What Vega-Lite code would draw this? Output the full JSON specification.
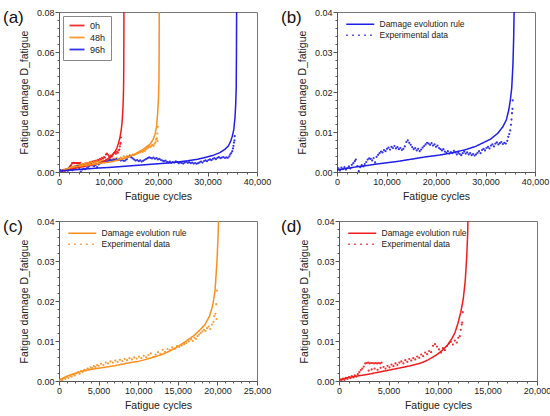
{
  "$schema": "https://vega.github.io/schema/vega-lite/v6.json",
  "padding": {"left": 2, "top": 7, "right": 2, "bottom": 2},
  "datasets": {
    "rule": [
      {"s": "0h", "N": 0, "D": 0.0002}, {"s": "0h", "N": 500, "D": 0.0006}, {"s": "0h", "N": 1000, "D": 0.0009},
      {"s": "0h", "N": 2000, "D": 0.0013}, {"s": "0h", "N": 3000, "D": 0.0017}, {"s": "0h", "N": 4000, "D": 0.0022},
      {"s": "0h", "N": 5000, "D": 0.0027}, {"s": "0h", "N": 6000, "D": 0.0032}, {"s": "0h", "N": 7000, "D": 0.0037},
      {"s": "0h", "N": 8000, "D": 0.0043}, {"s": "0h", "N": 8500, "D": 0.0047}, {"s": "0h", "N": 9000, "D": 0.0053},
      {"s": "0h", "N": 9500, "D": 0.006}, {"s": "0h", "N": 10000, "D": 0.0068}, {"s": "0h", "N": 10500, "D": 0.0078},
      {"s": "0h", "N": 11000, "D": 0.0091}, {"s": "0h", "N": 11400, "D": 0.0106}, {"s": "0h", "N": 11700, "D": 0.012},
      {"s": "0h", "N": 12000, "D": 0.0143}, {"s": "0h", "N": 12300, "D": 0.0172}, {"s": "0h", "N": 12550, "D": 0.0205},
      {"s": "0h", "N": 12750, "D": 0.025}, {"s": "0h", "N": 12900, "D": 0.031}, {"s": "0h", "N": 13000, "D": 0.037},
      {"s": "0h", "N": 13060, "D": 0.045}, {"s": "0h", "N": 13100, "D": 0.06}, {"s": "0h", "N": 13120, "D": 0.08},
      {"s": "0h", "N": 13130, "D": 0.1},
      {"s": "48h", "N": 0, "D": 0.0002}, {"s": "48h", "N": 500, "D": 0.0007}, {"s": "48h", "N": 1000, "D": 0.0012},
      {"s": "48h", "N": 2000, "D": 0.0019}, {"s": "48h", "N": 3000, "D": 0.0025}, {"s": "48h", "N": 4000, "D": 0.0029},
      {"s": "48h", "N": 5000, "D": 0.0032}, {"s": "48h", "N": 6000, "D": 0.0035}, {"s": "48h", "N": 7000, "D": 0.0038},
      {"s": "48h", "N": 8000, "D": 0.0042}, {"s": "48h", "N": 9000, "D": 0.0046}, {"s": "48h", "N": 10000, "D": 0.0049},
      {"s": "48h", "N": 11000, "D": 0.0054}, {"s": "48h", "N": 12000, "D": 0.006}, {"s": "48h", "N": 13000, "D": 0.0066},
      {"s": "48h", "N": 14000, "D": 0.0075}, {"s": "48h", "N": 15000, "D": 0.0086}, {"s": "48h", "N": 16000, "D": 0.0099},
      {"s": "48h", "N": 17000, "D": 0.0113}, {"s": "48h", "N": 17600, "D": 0.0124}, {"s": "48h", "N": 18400, "D": 0.014},
      {"s": "48h", "N": 19000, "D": 0.0162}, {"s": "48h", "N": 19400, "D": 0.0188}, {"s": "48h", "N": 19700, "D": 0.0225},
      {"s": "48h", "N": 19950, "D": 0.03}, {"s": "48h", "N": 20100, "D": 0.037}, {"s": "48h", "N": 20190, "D": 0.045},
      {"s": "48h", "N": 20230, "D": 0.06}, {"s": "48h", "N": 20250, "D": 0.08}, {"s": "48h", "N": 20260, "D": 0.1},
      {"s": "96h", "N": 0, "D": 0.0005}, {"s": "96h", "N": 2000, "D": 0.0009}, {"s": "96h", "N": 4000, "D": 0.0013},
      {"s": "96h", "N": 6000, "D": 0.0016}, {"s": "96h", "N": 8000, "D": 0.002}, {"s": "96h", "N": 10000, "D": 0.0023},
      {"s": "96h", "N": 12000, "D": 0.0026}, {"s": "96h", "N": 14000, "D": 0.003}, {"s": "96h", "N": 16000, "D": 0.0034},
      {"s": "96h", "N": 18000, "D": 0.0038}, {"s": "96h", "N": 20000, "D": 0.0041}, {"s": "96h", "N": 22000, "D": 0.0045},
      {"s": "96h", "N": 24000, "D": 0.005}, {"s": "96h", "N": 26000, "D": 0.0056}, {"s": "96h", "N": 28000, "D": 0.0064},
      {"s": "96h", "N": 29500, "D": 0.0073}, {"s": "96h", "N": 31000, "D": 0.0082}, {"s": "96h", "N": 32500, "D": 0.0097},
      {"s": "96h", "N": 33500, "D": 0.0113}, {"s": "96h", "N": 34200, "D": 0.013}, {"s": "96h", "N": 34700, "D": 0.0155},
      {"s": "96h", "N": 35000, "D": 0.0178}, {"s": "96h", "N": 35300, "D": 0.021}, {"s": "96h", "N": 35550, "D": 0.027},
      {"s": "96h", "N": 35700, "D": 0.034}, {"s": "96h", "N": 35800, "D": 0.042}, {"s": "96h", "N": 35850, "D": 0.06},
      {"s": "96h", "N": 35880, "D": 0.08}, {"s": "96h", "N": 35900, "D": 0.1}
    ],
    "exp": [
      {"s": "0h", "N": 100, "D": 0.0004}, {"s": "0h", "N": 250, "D": 0.0002}, {"s": "0h", "N": 400, "D": 0.0006},
      {"s": "0h", "N": 550, "D": 0.0003}, {"s": "0h", "N": 700, "D": 0.0008}, {"s": "0h", "N": 850, "D": 0.0005},
      {"s": "0h", "N": 1000, "D": 0.001}, {"s": "0h", "N": 1150, "D": 0.0007}, {"s": "0h", "N": 1300, "D": 0.0012},
      {"s": "0h", "N": 1450, "D": 0.0009}, {"s": "0h", "N": 1600, "D": 0.0014}, {"s": "0h", "N": 1750, "D": 0.0011},
      {"s": "0h", "N": 1900, "D": 0.0017}, {"s": "0h", "N": 2050, "D": 0.0022}, {"s": "0h", "N": 2200, "D": 0.0027},
      {"s": "0h", "N": 2350, "D": 0.0031}, {"s": "0h", "N": 2500, "D": 0.0036}, {"s": "0h", "N": 2650, "D": 0.0044},
      {"s": "0h", "N": 2800, "D": 0.0045}, {"s": "0h", "N": 2950, "D": 0.0046}, {"s": "0h", "N": 3100, "D": 0.0044},
      {"s": "0h", "N": 3250, "D": 0.0045}, {"s": "0h", "N": 3400, "D": 0.0045}, {"s": "0h", "N": 3550, "D": 0.0044},
      {"s": "0h", "N": 3700, "D": 0.0045}, {"s": "0h", "N": 3850, "D": 0.0044}, {"s": "0h", "N": 4000, "D": 0.0045},
      {"s": "0h", "N": 4150, "D": 0.0044}, {"s": "0h", "N": 4300, "D": 0.0046}, {"s": "0h", "N": 3000, "D": 0.0026},
      {"s": "0h", "N": 3300, "D": 0.0029}, {"s": "0h", "N": 3600, "D": 0.0031}, {"s": "0h", "N": 3900, "D": 0.0028},
      {"s": "0h", "N": 4200, "D": 0.0033}, {"s": "0h", "N": 4500, "D": 0.0035}, {"s": "0h", "N": 4700, "D": 0.0031},
      {"s": "0h", "N": 4900, "D": 0.0038}, {"s": "0h", "N": 5100, "D": 0.0034}, {"s": "0h", "N": 5300, "D": 0.0041},
      {"s": "0h", "N": 5500, "D": 0.0037}, {"s": "0h", "N": 5700, "D": 0.0044}, {"s": "0h", "N": 5900, "D": 0.004},
      {"s": "0h", "N": 6100, "D": 0.0046}, {"s": "0h", "N": 6300, "D": 0.0049}, {"s": "0h", "N": 6500, "D": 0.0044},
      {"s": "0h", "N": 6700, "D": 0.0052}, {"s": "0h", "N": 6900, "D": 0.0048}, {"s": "0h", "N": 7100, "D": 0.0055},
      {"s": "0h", "N": 7300, "D": 0.0051}, {"s": "0h", "N": 7500, "D": 0.0057}, {"s": "0h", "N": 7700, "D": 0.0054},
      {"s": "0h", "N": 7900, "D": 0.0061}, {"s": "0h", "N": 8100, "D": 0.0058}, {"s": "0h", "N": 8300, "D": 0.0066},
      {"s": "0h", "N": 8500, "D": 0.0062}, {"s": "0h", "N": 8700, "D": 0.0071}, {"s": "0h", "N": 8900, "D": 0.0067},
      {"s": "0h", "N": 9100, "D": 0.0075}, {"s": "0h", "N": 9300, "D": 0.0072}, {"s": "0h", "N": 9500, "D": 0.0088},
      {"s": "0h", "N": 9700, "D": 0.0092}, {"s": "0h", "N": 9900, "D": 0.0086}, {"s": "0h", "N": 10100, "D": 0.0079},
      {"s": "0h", "N": 10300, "D": 0.0071}, {"s": "0h", "N": 10500, "D": 0.0082}, {"s": "0h", "N": 10700, "D": 0.0077},
      {"s": "0h", "N": 10900, "D": 0.0087}, {"s": "0h", "N": 11100, "D": 0.0094}, {"s": "0h", "N": 11300, "D": 0.0098},
      {"s": "0h", "N": 11500, "D": 0.0091}, {"s": "0h", "N": 11700, "D": 0.0101}, {"s": "0h", "N": 11900, "D": 0.0096},
      {"s": "0h", "N": 12050, "D": 0.0108}, {"s": "0h", "N": 12200, "D": 0.0112}, {"s": "0h", "N": 12300, "D": 0.0128},
      {"s": "0h", "N": 12400, "D": 0.0141}, {"s": "0h", "N": 12450, "D": 0.0146}, {"s": "0h", "N": 12500, "D": 0.0172},
      {"s": "48h", "N": 0, "D": 0.0001}, {"s": "48h", "N": 200, "D": 0.0004}, {"s": "48h", "N": 400, "D": 0.0002},
      {"s": "48h", "N": 600, "D": 0.0007}, {"s": "48h", "N": 800, "D": 0.0005}, {"s": "48h", "N": 1000, "D": 0.001},
      {"s": "48h", "N": 1200, "D": 0.0008}, {"s": "48h", "N": 1400, "D": 0.0013}, {"s": "48h", "N": 1600, "D": 0.0011},
      {"s": "48h", "N": 1800, "D": 0.0016}, {"s": "48h", "N": 2000, "D": 0.0014}, {"s": "48h", "N": 2200, "D": 0.0019},
      {"s": "48h", "N": 2400, "D": 0.0022}, {"s": "48h", "N": 2600, "D": 0.0018}, {"s": "48h", "N": 2800, "D": 0.0025},
      {"s": "48h", "N": 3000, "D": 0.0023}, {"s": "48h", "N": 3200, "D": 0.0028}, {"s": "48h", "N": 3400, "D": 0.0026},
      {"s": "48h", "N": 3600, "D": 0.0031}, {"s": "48h", "N": 3800, "D": 0.0029}, {"s": "48h", "N": 4000, "D": 0.0034},
      {"s": "48h", "N": 4200, "D": 0.0032}, {"s": "48h", "N": 4400, "D": 0.0037}, {"s": "48h", "N": 4600, "D": 0.0035},
      {"s": "48h", "N": 4800, "D": 0.004}, {"s": "48h", "N": 5000, "D": 0.0038}, {"s": "48h", "N": 5300, "D": 0.0043},
      {"s": "48h", "N": 5600, "D": 0.004}, {"s": "48h", "N": 5900, "D": 0.0046}, {"s": "48h", "N": 6200, "D": 0.0044},
      {"s": "48h", "N": 6500, "D": 0.0049}, {"s": "48h", "N": 6800, "D": 0.0046}, {"s": "48h", "N": 7100, "D": 0.0051},
      {"s": "48h", "N": 7400, "D": 0.0048}, {"s": "48h", "N": 7700, "D": 0.0053}, {"s": "48h", "N": 8000, "D": 0.005},
      {"s": "48h", "N": 8300, "D": 0.0055}, {"s": "48h", "N": 8600, "D": 0.0052}, {"s": "48h", "N": 8900, "D": 0.0057},
      {"s": "48h", "N": 9200, "D": 0.0054}, {"s": "48h", "N": 9500, "D": 0.0059}, {"s": "48h", "N": 9800, "D": 0.0056},
      {"s": "48h", "N": 10100, "D": 0.0061}, {"s": "48h", "N": 10400, "D": 0.0057}, {"s": "48h", "N": 10700, "D": 0.0063},
      {"s": "48h", "N": 11000, "D": 0.0059}, {"s": "48h", "N": 11300, "D": 0.0065}, {"s": "48h", "N": 11600, "D": 0.0069},
      {"s": "48h", "N": 11900, "D": 0.006}, {"s": "48h", "N": 12200, "D": 0.0066}, {"s": "48h", "N": 12500, "D": 0.0072},
      {"s": "48h", "N": 12800, "D": 0.0068}, {"s": "48h", "N": 13100, "D": 0.0078}, {"s": "48h", "N": 13400, "D": 0.0073},
      {"s": "48h", "N": 13700, "D": 0.008}, {"s": "48h", "N": 14000, "D": 0.0077}, {"s": "48h", "N": 14300, "D": 0.0084},
      {"s": "48h", "N": 14600, "D": 0.008}, {"s": "48h", "N": 14900, "D": 0.0087}, {"s": "48h", "N": 15200, "D": 0.0085},
      {"s": "48h", "N": 15500, "D": 0.0089}, {"s": "48h", "N": 15800, "D": 0.0092}, {"s": "48h", "N": 16100, "D": 0.0095},
      {"s": "48h", "N": 16400, "D": 0.0099}, {"s": "48h", "N": 16700, "D": 0.0104}, {"s": "48h", "N": 16900, "D": 0.01},
      {"s": "48h", "N": 17100, "D": 0.0108}, {"s": "48h", "N": 17300, "D": 0.0105}, {"s": "48h", "N": 17500, "D": 0.0112},
      {"s": "48h", "N": 17700, "D": 0.0116}, {"s": "48h", "N": 17900, "D": 0.012}, {"s": "48h", "N": 18100, "D": 0.0124},
      {"s": "48h", "N": 18300, "D": 0.0128}, {"s": "48h", "N": 18500, "D": 0.0125}, {"s": "48h", "N": 18700, "D": 0.0132},
      {"s": "48h", "N": 18900, "D": 0.0136}, {"s": "48h", "N": 19100, "D": 0.013}, {"s": "48h", "N": 19300, "D": 0.0141},
      {"s": "48h", "N": 19500, "D": 0.0148}, {"s": "48h", "N": 19600, "D": 0.0162}, {"s": "48h", "N": 19750, "D": 0.0168},
      {"s": "48h", "N": 19850, "D": 0.0192}, {"s": "48h", "N": 19950, "D": 0.0226}, {"s": "48h", "N": 19900, "D": 0.0155},
      {"s": "96h", "N": 0, "D": 0.0005}, {"s": "96h", "N": 300, "D": 0.0009}, {"s": "96h", "N": 600, "D": 0.0004},
      {"s": "96h", "N": 900, "D": 0.0011}, {"s": "96h", "N": 1200, "D": 0.0007}, {"s": "96h", "N": 1500, "D": 0.0012},
      {"s": "96h", "N": 1800, "D": 0.0006}, {"s": "96h", "N": 2100, "D": 0.001}, {"s": "96h", "N": 2400, "D": 0.0014},
      {"s": "96h", "N": 2700, "D": 0.0009}, {"s": "96h", "N": 3000, "D": 0.0018}, {"s": "96h", "N": 3300, "D": 0.0022},
      {"s": "96h", "N": 3600, "D": 0.0027}, {"s": "96h", "N": 3800, "D": 0.0031}, {"s": "96h", "N": 4100, "D": 0.0015},
      {"s": "96h", "N": 4400, "D": 0.0002}, {"s": "96h", "N": 4700, "D": 0.0012}, {"s": "96h", "N": 5000, "D": 0.0017},
      {"s": "96h", "N": 5300, "D": 0.0014}, {"s": "96h", "N": 5600, "D": 0.002}, {"s": "96h", "N": 5900, "D": 0.0025},
      {"s": "96h", "N": 6200, "D": 0.0031}, {"s": "96h", "N": 6500, "D": 0.0034}, {"s": "96h", "N": 6800, "D": 0.0033},
      {"s": "96h", "N": 7100, "D": 0.0029}, {"s": "96h", "N": 7400, "D": 0.0035}, {"s": "96h", "N": 7700, "D": 0.0024},
      {"s": "96h", "N": 8000, "D": 0.0038}, {"s": "96h", "N": 8300, "D": 0.0043}, {"s": "96h", "N": 8600, "D": 0.0047},
      {"s": "96h", "N": 8900, "D": 0.0051}, {"s": "96h", "N": 9200, "D": 0.0049}, {"s": "96h", "N": 9500, "D": 0.0055},
      {"s": "96h", "N": 9800, "D": 0.0052}, {"s": "96h", "N": 10100, "D": 0.0058}, {"s": "96h", "N": 10400, "D": 0.0061},
      {"s": "96h", "N": 10700, "D": 0.0056}, {"s": "96h", "N": 11000, "D": 0.0063}, {"s": "96h", "N": 11300, "D": 0.006},
      {"s": "96h", "N": 11600, "D": 0.0065}, {"s": "96h", "N": 11900, "D": 0.0059}, {"s": "96h", "N": 12200, "D": 0.0062},
      {"s": "96h", "N": 12500, "D": 0.0057}, {"s": "96h", "N": 12800, "D": 0.006}, {"s": "96h", "N": 13100, "D": 0.0055},
      {"s": "96h", "N": 13400, "D": 0.0058}, {"s": "96h", "N": 13700, "D": 0.0064}, {"s": "96h", "N": 14000, "D": 0.0075},
      {"s": "96h", "N": 14300, "D": 0.0079}, {"s": "96h", "N": 14600, "D": 0.0073}, {"s": "96h", "N": 14900, "D": 0.0068},
      {"s": "96h", "N": 15200, "D": 0.0062}, {"s": "96h", "N": 15500, "D": 0.0057}, {"s": "96h", "N": 15800, "D": 0.006},
      {"s": "96h", "N": 16100, "D": 0.0054}, {"s": "96h", "N": 16400, "D": 0.0058}, {"s": "96h", "N": 16700, "D": 0.0052},
      {"s": "96h", "N": 17000, "D": 0.0056}, {"s": "96h", "N": 17300, "D": 0.0061}, {"s": "96h", "N": 17600, "D": 0.0065},
      {"s": "96h", "N": 17900, "D": 0.0069}, {"s": "96h", "N": 18200, "D": 0.0073}, {"s": "96h", "N": 18500, "D": 0.0071},
      {"s": "96h", "N": 18800, "D": 0.0068}, {"s": "96h", "N": 19100, "D": 0.0072}, {"s": "96h", "N": 19400, "D": 0.0066},
      {"s": "96h", "N": 19700, "D": 0.0069}, {"s": "96h", "N": 20000, "D": 0.0063}, {"s": "96h", "N": 20300, "D": 0.0066},
      {"s": "96h", "N": 20600, "D": 0.006}, {"s": "96h", "N": 20900, "D": 0.0057}, {"s": "96h", "N": 21200, "D": 0.0054},
      {"s": "96h", "N": 21500, "D": 0.0057}, {"s": "96h", "N": 21800, "D": 0.0051}, {"s": "96h", "N": 22100, "D": 0.0048},
      {"s": "96h", "N": 22400, "D": 0.0052}, {"s": "96h", "N": 22700, "D": 0.0046}, {"s": "96h", "N": 23000, "D": 0.005},
      {"s": "96h", "N": 23300, "D": 0.0047}, {"s": "96h", "N": 23600, "D": 0.0053}, {"s": "96h", "N": 23900, "D": 0.0049},
      {"s": "96h", "N": 24200, "D": 0.0044}, {"s": "96h", "N": 24500, "D": 0.0048}, {"s": "96h", "N": 24800, "D": 0.0045},
      {"s": "96h", "N": 25100, "D": 0.0042}, {"s": "96h", "N": 25400, "D": 0.0047}, {"s": "96h", "N": 25700, "D": 0.0051},
      {"s": "96h", "N": 26000, "D": 0.0046}, {"s": "96h", "N": 26300, "D": 0.0049}, {"s": "96h", "N": 26600, "D": 0.0044},
      {"s": "96h", "N": 26900, "D": 0.0047}, {"s": "96h", "N": 27200, "D": 0.0042}, {"s": "96h", "N": 27500, "D": 0.0045},
      {"s": "96h", "N": 27800, "D": 0.0041}, {"s": "96h", "N": 28100, "D": 0.0044}, {"s": "96h", "N": 28400, "D": 0.0048},
      {"s": "96h", "N": 28700, "D": 0.0052}, {"s": "96h", "N": 29000, "D": 0.0047}, {"s": "96h", "N": 29300, "D": 0.0055},
      {"s": "96h", "N": 29600, "D": 0.0058}, {"s": "96h", "N": 29900, "D": 0.0054}, {"s": "96h", "N": 30200, "D": 0.006},
      {"s": "96h", "N": 30500, "D": 0.0063}, {"s": "96h", "N": 30800, "D": 0.0059}, {"s": "96h", "N": 31100, "D": 0.0066},
      {"s": "96h", "N": 31400, "D": 0.0069}, {"s": "96h", "N": 31700, "D": 0.0064}, {"s": "96h", "N": 32000, "D": 0.0071},
      {"s": "96h", "N": 32300, "D": 0.0074}, {"s": "96h", "N": 32600, "D": 0.0069}, {"s": "96h", "N": 32900, "D": 0.0072},
      {"s": "96h", "N": 33200, "D": 0.0075}, {"s": "96h", "N": 33500, "D": 0.007}, {"s": "96h", "N": 33800, "D": 0.0073},
      {"s": "96h", "N": 34100, "D": 0.0071}, {"s": "96h", "N": 34400, "D": 0.0078}, {"s": "96h", "N": 34600, "D": 0.0088},
      {"s": "96h", "N": 34800, "D": 0.0095}, {"s": "96h", "N": 35000, "D": 0.0104}, {"s": "96h", "N": 35150, "D": 0.0118},
      {"s": "96h", "N": 35250, "D": 0.0131}, {"s": "96h", "N": 35350, "D": 0.0147}, {"s": "96h", "N": 35450, "D": 0.0158},
      {"s": "96h", "N": 35500, "D": 0.0179}
    ]
  },
  "spacing": 14,
  "vconcat": [
    {
      "spacing": 8,
      "resolve": {
        "scale": {"color": "independent", "strokeDash": "independent", "x": "independent", "y": "independent"},
        "legend": {"color": "independent", "strokeDash": "independent"}
      },
      "hconcat": [
        {
          "width": 198,
          "height": 160,
          "title": {"text": "(a)", "dx": -56, "baseline": "middle", "offset": -27},
          "encoding": {
            "x": {
              "field": "N", "type": "quantitative", "scale": {"domain": [0, 40000], "nice": false},
              "axis": {
                "title": "Fatigue cycles",
                "values": [0, 2000, 4000, 6000, 8000, 10000, 12000, 14000, 16000, 18000, 20000, 22000, 24000, 26000, 28000, 30000, 32000, 34000, 36000, 38000, 40000],
                "labelExpr": "datum.value % 10000 === 0 ? format(datum.value, ',') : ''",
                "tickSize": {"condition": {"test": "datum.value % 10000 === 0", "value": 4}, "value": 2}
              }
            },
            "y": {
              "field": "D", "type": "quantitative", "scale": {"domain": [0, 0.08], "nice": false},
              "axis": {
                "title": "Fatigue damage D_fatigue",
                "values": [0, 0.004, 0.008, 0.012, 0.016, 0.02, 0.024, 0.028, 0.032, 0.036, 0.04, 0.044, 0.048, 0.052, 0.056, 0.06, 0.064, 0.068, 0.072, 0.076, 0.08],
                "labelExpr": "abs(datum.value * 50 - round(datum.value * 50)) < 1e-6 ? format(datum.value, '.2f') : ''",
                "tickSize": {"condition": {"test": "abs(datum.value * 50 - round(datum.value * 50)) < 1e-6", "value": 4}, "value": 2}
              }
            },
            "color": {
              "field": "s", "type": "nominal",
              "scale": {"domain": ["0h", "48h", "96h"], "range": ["#ee1c1c", "#f7901e", "#1f1fe6"]},
              "legend": {
                "title": null, "orient": "top-left", "offset": 4, "padding": 5,
                "strokeColor": "#888", "symbolType": "M-1,0H4", "symbolSize": 36,
                "symbolStrokeWidth": 1.8, "symbolFillColor": "transparent",
                "labelFontSize": 9, "labelOffset": 13, "rowPadding": 2
              }
            }
          },
          "layer": [
            {
              "data": {"name": "exp"},
              "mark": {"type": "point", "filled": true, "size": 5, "opacity": 0.9, "clip": true}
            },
            {
              "data": {"name": "rule"},
              "mark": {"type": "line", "strokeWidth": 1.5, "clip": true}
            }
          ]
        },
        {
          "width": 198,
          "height": 160,
          "title": {"text": "(b)", "dx": -56, "baseline": "middle", "offset": -27},
          "encoding": {
            "x": {
              "field": "N", "type": "quantitative", "scale": {"domain": [0, 40000], "nice": false},
              "axis": {
                "title": "Fatigue cycles",
                "values": [0, 2000, 4000, 6000, 8000, 10000, 12000, 14000, 16000, 18000, 20000, 22000, 24000, 26000, 28000, 30000, 32000, 34000, 36000, 38000, 40000],
                "labelExpr": "datum.value % 10000 === 0 ? format(datum.value, ',') : ''",
                "tickSize": {"condition": {"test": "datum.value % 10000 === 0", "value": 4}, "value": 2}
              }
            },
            "y": {
              "field": "D", "type": "quantitative", "scale": {"domain": [0, 0.04], "nice": false},
              "axis": {
                "title": "Fatigue damage D_fatigue",
                "values": [0, 0.002, 0.004, 0.006, 0.008, 0.01, 0.012, 0.014, 0.016, 0.018, 0.02, 0.022, 0.024, 0.026, 0.028, 0.03, 0.032, 0.034, 0.036, 0.038, 0.04],
                "labelExpr": "abs(datum.value * 100 - round(datum.value * 100)) < 1e-6 ? format(datum.value, '.2f') : ''",
                "tickSize": {"condition": {"test": "abs(datum.value * 100 - round(datum.value * 100)) < 1e-6", "value": 4}, "value": 2}
              }
            }
          },
          "layer": [
            {
              "data": {"name": "exp"},
              "transform": [{"filter": "datum.s === '96h'"}],
              "mark": {"type": "point", "filled": true, "size": 5, "opacity": 0.9, "color": "#1f1fe6", "clip": true}
            },
            {
              "data": {"name": "rule"},
              "transform": [{"filter": "datum.s === '96h'"}],
              "mark": {"type": "line", "strokeWidth": 1.5, "color": "#1f1fe6", "clip": true},
              "encoding": {
                "strokeDash": {
                  "datum": "Damage evolution rule", "type": "nominal",
                  "scale": {"domain": ["Damage evolution rule", "Experimental data"], "range": [[1, 0], [1.5, 4.5]]},
                  "legend": {
                    "title": null, "orient": "top-left", "offset": 8, "padding": 0,
                    "symbolType": "M-1,0H8.33", "symbolSize": 36, "symbolStrokeColor": "#1f1fe6",
                    "symbolFillColor": "transparent", "symbolStrokeWidth": 1.5,
                    "labelFontSize": 8.5, "labelOffset": 26, "rowPadding": 2
                  }
                }
              }
            }
          ]
        }
      ]
    },
    {
      "spacing": 8,
      "resolve": {
        "scale": {"color": "independent", "strokeDash": "independent", "x": "independent", "y": "independent"},
        "legend": {"color": "independent", "strokeDash": "independent"}
      },
      "hconcat": [
        {
          "width": 198,
          "height": 160,
          "title": {"text": "(c)", "dx": -56, "baseline": "middle", "offset": -27},
          "encoding": {
            "x": {
              "field": "N", "type": "quantitative", "scale": {"domain": [0, 25000], "nice": false},
              "axis": {
                "title": "Fatigue cycles",
                "values": [0, 1000, 2000, 3000, 4000, 5000, 6000, 7000, 8000, 9000, 10000, 11000, 12000, 13000, 14000, 15000, 16000, 17000, 18000, 19000, 20000, 21000, 22000, 23000, 24000, 25000],
                "labelExpr": "datum.value % 5000 === 0 ? format(datum.value, ',') : ''",
                "tickSize": {"condition": {"test": "datum.value % 5000 === 0", "value": 4}, "value": 2}
              }
            },
            "y": {
              "field": "D", "type": "quantitative", "scale": {"domain": [0, 0.04], "nice": false},
              "axis": {
                "title": "Fatigue damage D_fatigue",
                "values": [0, 0.002, 0.004, 0.006, 0.008, 0.01, 0.012, 0.014, 0.016, 0.018, 0.02, 0.022, 0.024, 0.026, 0.028, 0.03, 0.032, 0.034, 0.036, 0.038, 0.04],
                "labelExpr": "abs(datum.value * 100 - round(datum.value * 100)) < 1e-6 ? format(datum.value, '.2f') : ''",
                "tickSize": {"condition": {"test": "abs(datum.value * 100 - round(datum.value * 100)) < 1e-6", "value": 4}, "value": 2}
              }
            }
          },
          "layer": [
            {
              "data": {"name": "exp"},
              "transform": [{"filter": "datum.s === '48h'"}],
              "mark": {"type": "point", "filled": true, "size": 5, "opacity": 0.9, "color": "#f7901e", "clip": true}
            },
            {
              "data": {"name": "rule"},
              "transform": [{"filter": "datum.s === '48h'"}],
              "mark": {"type": "line", "strokeWidth": 1.5, "color": "#f7901e", "clip": true},
              "encoding": {
                "strokeDash": {
                  "datum": "Damage evolution rule", "type": "nominal",
                  "scale": {"domain": ["Damage evolution rule", "Experimental data"], "range": [[1, 0], [1.5, 4.5]]},
                  "legend": {
                    "title": null, "orient": "top-left", "offset": 8, "padding": 0,
                    "symbolType": "M-1,0H8.33", "symbolSize": 36, "symbolStrokeColor": "#f7901e",
                    "symbolFillColor": "transparent", "symbolStrokeWidth": 1.5,
                    "labelFontSize": 8.5, "labelOffset": 26, "rowPadding": 2
                  }
                }
              }
            }
          ]
        },
        {
          "width": 198,
          "height": 160,
          "title": {"text": "(d)", "dx": -58, "baseline": "middle", "offset": -27},
          "encoding": {
            "x": {
              "field": "N", "type": "quantitative", "scale": {"domain": [0, 20000], "nice": false},
              "axis": {
                "title": "Fatigue cycles",
                "values": [0, 1000, 2000, 3000, 4000, 5000, 6000, 7000, 8000, 9000, 10000, 11000, 12000, 13000, 14000, 15000, 16000, 17000, 18000, 19000, 20000],
                "labelExpr": "datum.value % 5000 === 0 ? format(datum.value, ',') : ''",
                "tickSize": {"condition": {"test": "datum.value % 5000 === 0", "value": 4}, "value": 2}
              }
            },
            "y": {
              "field": "D", "type": "quantitative", "scale": {"domain": [0, 0.04], "nice": false},
              "axis": {
                "title": "Fatigue damage D_fatigue",
                "values": [0, 0.002, 0.004, 0.006, 0.008, 0.01, 0.012, 0.014, 0.016, 0.018, 0.02, 0.022, 0.024, 0.026, 0.028, 0.03, 0.032, 0.034, 0.036, 0.038, 0.04],
                "labelExpr": "abs(datum.value * 100 - round(datum.value * 100)) < 1e-6 ? format(datum.value, '.2f') : ''",
                "tickSize": {"condition": {"test": "abs(datum.value * 100 - round(datum.value * 100)) < 1e-6", "value": 4}, "value": 2}
              }
            }
          },
          "layer": [
            {
              "data": {"name": "exp"},
              "transform": [{"filter": "datum.s === '0h'"}],
              "mark": {"type": "point", "filled": true, "size": 5, "opacity": 0.9, "color": "#ee1c1c", "clip": true}
            },
            {
              "data": {"name": "rule"},
              "transform": [{"filter": "datum.s === '0h'"}],
              "mark": {"type": "line", "strokeWidth": 1.5, "color": "#ee1c1c", "clip": true},
              "encoding": {
                "strokeDash": {
                  "datum": "Damage evolution rule", "type": "nominal",
                  "scale": {"domain": ["Damage evolution rule", "Experimental data"], "range": [[1, 0], [1.5, 4.5]]},
                  "legend": {
                    "title": null, "orient": "top-left", "offset": 8, "padding": 0,
                    "symbolType": "M-1,0H8.33", "symbolSize": 36, "symbolStrokeColor": "#ee1c1c",
                    "symbolFillColor": "transparent", "symbolStrokeWidth": 1.5,
                    "labelFontSize": 8.5, "labelOffset": 26, "rowPadding": 2
                  }
                }
              }
            }
          ]
        }
      ]
    }
  ],
  "resolve": {
    "scale": {"color": "independent", "strokeDash": "independent", "x": "independent", "y": "independent"},
    "legend": {"color": "independent", "strokeDash": "independent"}
  },
  "config": {
    "font": "Liberation Sans",
    "view": {"stroke": "#777", "strokeWidth": 1},
    "axis": {
      "grid": false, "domainColor": "#555", "tickColor": "#555", "labelColor": "#222", "titleColor": "#222",
      "labelFontSize": 9, "titleFontSize": 10.5, "titleFontWeight": "normal", "labelPadding": 1,
      "labelOverlap": false, "labelFlush": false
    },
    "axisX": {"titlePadding": 5},
    "axisY": {"titlePadding": 7},
    "title": {"fontSize": 17, "fontWeight": "normal", "anchor": "start", "frame": "group", "color": "#111"},
    "legend": {"labelColor": "#222", "labelFont": "Liberation Sans"}
  }
}
